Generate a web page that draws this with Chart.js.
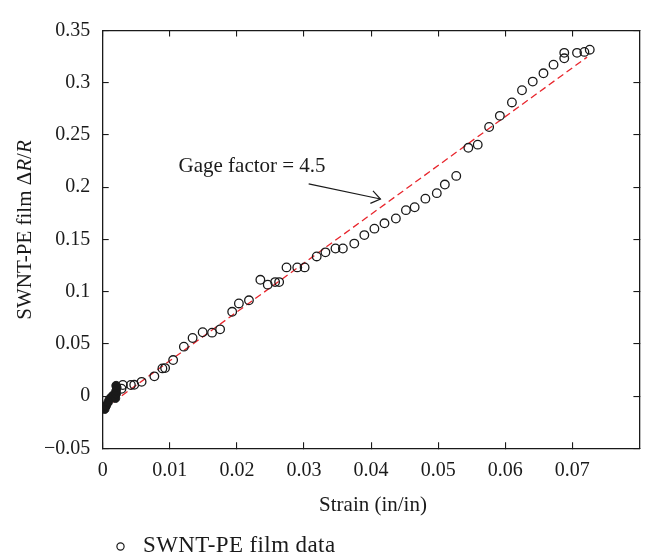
<!DOCTYPE html>
<html>
<head>
<meta charset="utf-8">
<title>SWNT-PE film strain response</title>
<script src="https://cdn.jsdelivr.net/npm/chart.js@4.4.0/dist/chart.umd.min.js"></script>
<style>
  html, body { margin: 0; padding: 0; background: #fff; }
  #wrap { width: 645px; height: 558px; }
</style>
</head>
<body>
<div id="wrap"><canvas id="strainChart" width="645" height="558"></canvas></div>
<script>
// measured film response (open markers)
const strain = [
  0.0028, 0.0030, 0.0042, 0.0047, 0.0058, 0.0077, 0.0089, 0.0093, 0.0105, 0.0121,
  0.0134, 0.0149, 0.0163, 0.0175, 0.0193, 0.0203, 0.0218, 0.0235, 0.0246, 0.0257,
  0.0263, 0.0274, 0.0290, 0.0301, 0.0319, 0.0332, 0.0347, 0.0358, 0.0375, 0.0390,
  0.0405, 0.0420, 0.0437, 0.0452, 0.0465, 0.0481, 0.0498, 0.0510, 0.0527, 0.0545,
  0.0559, 0.0576, 0.0592, 0.0610, 0.0625, 0.0641, 0.0657, 0.0672, 0.0688, 0.0688,
  0.0707, 0.0718, 0.0726
];
const resistance = [
  0.0070, 0.0106, 0.0106, 0.0108, 0.0136, 0.0189, 0.0265, 0.0268, 0.0345, 0.0473,
  0.0556, 0.0611, 0.0607, 0.0639, 0.0807, 0.0887, 0.0917, 0.1113, 0.1067, 0.1091,
  0.1091, 0.1232, 0.1232, 0.1232, 0.1337, 0.1376, 0.1413, 0.1413, 0.1460, 0.1541,
  0.1603, 0.1654, 0.1700, 0.1780, 0.1808, 0.1890, 0.1943, 0.2025, 0.2108, 0.2377,
  0.2407, 0.2576, 0.2683, 0.2811, 0.2928, 0.3011, 0.3090, 0.3173, 0.3234, 0.3286,
  0.3286, 0.3295, 0.3316
];

// low-strain points (filled markers)
const earlyStrain = [0.0003, 0.0005, 0.0008, 0.0010, 0.0013, 0.0016, 0.0019, 0.0020, 0.0020, 0.0021, 0.0020];
const earlyResistance = [-0.0125, -0.0095, -0.0060, -0.0030, -0.0010, 0.0010, -0.0020, 0.0020, 0.0050, 0.0080, 0.0100];

// linear fit
const fitStrain = [0.0002, 0.0722];
const fitResistance = [-0.0120, 0.3245];

// annotation arrow and label
const arrowStrain = [0.0307, 0.0414];
const arrowResistance = [0.2031, 0.1887];
const noteStrain = 0.0113;
const noteResistance = 0.2147;
const noteText = 'Gage factor = 4.5';

// axes
const xTicks = [0, 0.01, 0.02, 0.03, 0.04, 0.05, 0.06, 0.07];
const yTicks = [-0.05, 0, 0.05, 0.1, 0.15, 0.2, 0.25, 0.3, 0.35];
const xTitle = 'Strain (in/in)';
const yTitleParts = [['SWNT-PE film \u0394', false], ['R', true], ['/', false], ['R', true]];
const legendLabel = 'SWNT-PE film data';

const SERIF = '"Liberation Serif", "Times New Roman", serif';
const INK = '#1a1a1a';
const FIT_RED = '#e8262d';

function pts(xs, ys) { return xs.map((x, i) => ({ x, y: ys[i] })); }

function fmtTick(v) {
  const s = String(parseFloat(Math.abs(v).toFixed(2)));
  return v < -1e-9 ? '\u2212' + s : s;
}

function pickTicks(list) {
  return scale => {
    scale.ticks = list.map(value => ({ value }));
  };
}

const sideAxis = {
  ticks: { display: false },
  grid: { drawOnChartArea: false, tickLength: -6, color: INK, lineWidth: 1.1 },
  border: { color: INK, width: 1.3 }
};

const decor = {
  id: 'decor',
  afterDraw(chart) {
    const { ctx, scales } = chart;
    const sx = scales.x, sy = scales.y;
    ctx.save();

    // arrow head
    const x0 = sx.getPixelForValue(arrowStrain[0]), y0 = sy.getPixelForValue(arrowResistance[0]);
    const x1 = sx.getPixelForValue(arrowStrain[1]), y1 = sy.getPixelForValue(arrowResistance[1]);
    const ang = Math.atan2(y1 - y0, x1 - x0);
    const len = 11, spread = 0.62;
    ctx.strokeStyle = INK;
    ctx.lineWidth = 1.2;
    ctx.beginPath();
    ctx.moveTo(x1 - len * Math.cos(ang - spread), y1 - len * Math.sin(ang - spread));
    ctx.lineTo(x1, y1);
    ctx.lineTo(x1 - len * Math.cos(ang + spread), y1 - len * Math.sin(ang + spread));
    ctx.stroke();

    // note
    ctx.fillStyle = INK;
    ctx.font = '21px ' + SERIF;
    ctx.textAlign = 'left';
    ctx.textBaseline = 'alphabetic';
    ctx.fillText(noteText, sx.getPixelForValue(noteStrain), sy.getPixelForValue(noteResistance));

    // x title
    ctx.textAlign = 'center';
    ctx.textBaseline = 'middle';
    ctx.fillText(xTitle, 373, 505);

    // y title, mixed upright/italic
    ctx.translate(25, 230);
    ctx.rotate(-Math.PI / 2);
    const fonts = it => (it ? 'italic ' : '') + '21px ' + SERIF;
    let total = 0;
    yTitleParts.forEach(([t, it]) => { ctx.font = fonts(it); total += ctx.measureText(t).width; });
    let cx = -total / 2;
    ctx.textAlign = 'left';
    yTitleParts.forEach(([t, it]) => {
      ctx.font = fonts(it);
      ctx.fillText(t, cx, 0);
      cx += ctx.measureText(t).width;
    });
    ctx.setTransform(1, 0, 0, 1, 0, 0);

    // legend
    ctx.beginPath();
    ctx.arc(120.5, 546.5, 3.6, 0, Math.PI * 2);
    ctx.lineWidth = 1.2;
    ctx.stroke();
    ctx.font = '23px ' + SERIF;
    ctx.letterSpacing = '0.4px';
    ctx.textAlign = 'left';
    ctx.textBaseline = 'middle';
    ctx.fillText(legendLabel, 143, 545.5);
    ctx.letterSpacing = '0px';

    ctx.restore();
  }
};

new Chart(document.getElementById('strainChart').getContext('2d'), {
  type: 'scatter',
  data: {
    datasets: [
      {
        label: legendLabel,
        data: pts(strain, resistance),
        pointStyle: 'circle',
        pointRadius: 4.3,
        pointBorderWidth: 1.3,
        borderColor: INK,
        backgroundColor: 'rgba(0,0,0,0)',
        showLine: false,
        order: 1
      },
      {
        label: 'early',
        data: pts(earlyStrain, earlyResistance),
        pointStyle: 'circle',
        pointRadius: 4.3,
        pointBorderWidth: 1,
        borderColor: INK,
        backgroundColor: INK,
        showLine: false,
        order: 0
      },
      {
        label: 'fit',
        data: pts(fitStrain, fitResistance),
        showLine: true,
        pointRadius: 0,
        borderColor: FIT_RED,
        borderWidth: 1.3,
        borderDash: [7, 4],
        order: 2
      },
      {
        label: 'arrow',
        data: pts(arrowStrain, arrowResistance),
        showLine: true,
        pointRadius: 0,
        borderColor: INK,
        borderWidth: 1.2,
        order: 3
      }
    ]
  },
  options: {
    responsive: false,
    animation: false,
    devicePixelRatio: 1,
    layout: { padding: { top: 12.7, right: 2.7, bottom: 49.7, left: 0 } },
    plugins: {
      legend: { display: false },
      tooltip: { enabled: false }
    },
    scales: {
      x: {
        type: 'linear',
        position: 'bottom',
        min: 0,
        max: 0.08,
        afterBuildTicks: pickTicks(xTicks),
        afterFit: s => { s.height = 60; },
        ticks: {
          callback: v => fmtTick(v),
          font: { family: SERIF, size: 20 },
          color: INK,
          padding: 16,
          maxRotation: 0
        },
        grid: { drawOnChartArea: false, tickLength: -6, color: INK, lineWidth: 1.1 },
        border: { color: INK, width: 1.3 }
      },
      x2: Object.assign({
        type: 'linear', axis: 'x', position: 'top', min: 0, max: 0.08,
        afterBuildTicks: pickTicks(xTicks),
        afterFit: s => { s.height = 0; }
      }, sideAxis),
      y: {
        type: 'linear',
        position: 'left',
        min: -0.05,
        max: 0.35,
        afterBuildTicks: pickTicks(yTicks),
        afterFit: s => { s.width = 102.7; },
        ticks: {
          callback: v => fmtTick(v),
          font: { family: SERIF, size: 20 },
          color: INK,
          padding: 18.5
        },
        grid: { drawOnChartArea: false, tickLength: -6, color: INK, lineWidth: 1.1 },
        border: { color: INK, width: 1.3 }
      },
      y2: Object.assign({
        type: 'linear', axis: 'y', position: 'right', min: -0.05, max: 0.35,
        afterBuildTicks: pickTicks(yTicks),
        afterFit: s => { s.width = 0; }
      }, sideAxis)
    }
  },
  plugins: [decor]
});
</script>
</body>
</html>
